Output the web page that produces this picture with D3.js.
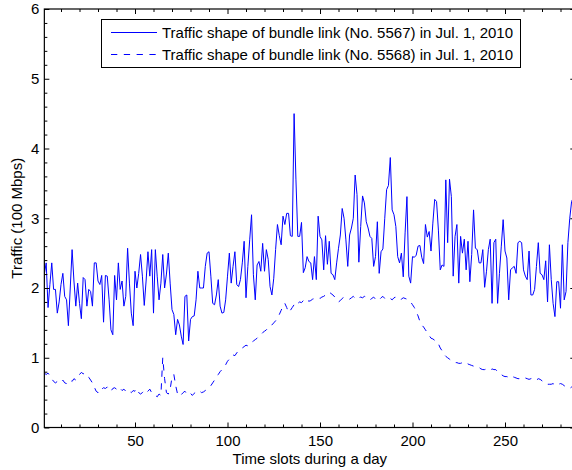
<!DOCTYPE html>
<html>
<head>
<meta charset="utf-8">
<script src="https://cdn.jsdelivr.net/npm/d3@7"></script>
<style>
  html, body { margin: 0; padding: 0; background: #fff; }
  svg { display: block; font-family: "Liberation Sans", Arial, Helvetica, sans-serif; }
</style>
</head>
<body>
<svg id="chart" width="572" height="470"></svg>
<script>
// Traffic over the 288 five-minute slots of Jul. 1, 2010 (unit: 100 Mbps)
const link5567 = [
  2.2, 2.36, 1.72, 2.05, 2.36, 1.98, 1.98, 1.64, 1.8, 2.05,
  2.21, 1.88, 1.83, 1.46, 2.0, 2.55, 2.1, 1.74, 2.07, 1.78,
  1.56, 2.15, 2.12, 1.74, 1.98, 1.95, 1.74, 2.36, 2.36, 2.1,
  2.05, 2.18, 1.51, 2.18, 2.17, 1.83, 1.4, 1.33, 2.18, 1.83,
  2.36, 1.98, 2.1, 1.74, 1.88, 2.57, 2.07, 1.64, 1.46, 2.24,
  2.0, 2.21, 2.48, 2.17, 1.75, 2.1, 2.52, 2.17, 2.55, 1.64,
  2.55, 2.17, 1.83, 2.07, 2.48, 2.0, 2.2, 2.5, 2.07, 1.69,
  1.62, 1.33, 1.55, 1.47, 1.31, 1.19, 1.88, 1.9, 1.24, 1.55,
  1.59, 1.6, 1.83, 2.24, 2.0, 2.0, 2.0, 2.31, 2.5, 2.52,
  2.17, 1.78, 1.76, 1.9, 2.12, 1.74, 1.64, 1.65, 1.83, 2.17,
  2.5, 2.07, 2.31, 2.52, 2.05, 2.02, 2.12, 2.36, 2.67, 1.86,
  2.31, 2.69, 3.05, 2.19, 1.83, 2.33, 2.38, 2.24, 2.64, 2.24,
  2.55, 2.41, 2.02, 1.9, 2.14, 2.55, 2.91, 2.75, 2.62, 3.03,
  2.91, 3.07, 3.07, 2.75, 2.74, 4.5, 3.55, 2.74, 2.74, 2.94,
  2.22, 2.29, 2.45, 2.38, 2.36, 2.12, 2.45, 2.12, 3.03, 2.74,
  2.69, 2.26, 2.75, 2.34, 2.67, 2.21, 2.19, 2.12, 2.36, 2.57,
  2.76, 3.14, 3.0, 2.69, 2.31, 2.76, 2.86, 3.0, 3.62, 3.34,
  2.37, 2.88, 3.32, 3.22, 2.95, 2.86, 2.74, 2.71, 2.31, 2.45,
  2.95, 2.21, 2.52, 2.56, 3.0, 3.41, 3.47, 3.87, 3.12, 3.05,
  2.88, 2.45, 2.36, 2.5, 2.16, 2.79, 3.31, 2.17, 2.07, 2.45,
  2.44, 2.47, 2.6, 2.61, 2.44, 2.35, 2.91, 2.73, 2.81, 2.53,
  2.93, 3.27, 3.24, 2.83, 2.26, 2.33, 2.31, 3.55, 2.65, 3.56,
  3.31, 2.17, 2.74, 2.91, 2.07, 2.74, 2.5, 2.7, 2.26, 2.67,
  2.09, 2.48, 3.12, 2.57, 2.55, 2.36, 2.36, 2.55, 2.01, 2.24,
  2.55, 2.7, 1.78, 2.65, 2.7, 1.78, 2.21, 2.6, 2.98, 2.53,
  2.43, 1.83, 2.26, 2.29, 2.31, 2.21, 2.65, 2.67, 2.65, 2.26,
  2.17, 2.12, 2.53, 1.9, 1.9, 1.98, 2.31, 2.65, 2.21, 2.19,
  2.12, 2.39, 1.8, 2.62, 2.12, 1.78, 1.59, 2.09, 2.09, 1.71,
  2.62, 1.83, 1.95, 2.65, 3.0, 3.24, 3.3, 3.1
];

const link5568 = [
  0.78, 0.76, 0.78, 0.74, 0.7, 0.66, 0.64, 0.66, 0.67, 0.65,
  0.68, 0.64, 0.63, 0.66, 0.68, 0.66, 0.7, 0.68, 0.72, 0.76,
  0.79, 0.77, 0.78, 0.74, 0.72, 0.68, 0.64, 0.58, 0.52, 0.5,
  0.56, 0.55, 0.57, 0.56, 0.58, 0.55, 0.52, 0.56, 0.57, 0.55,
  0.58, 0.56, 0.53, 0.55, 0.52, 0.54, 0.52, 0.5, 0.53, 0.52,
  0.56, 0.5, 0.48, 0.5, 0.53, 0.5, 0.52, 0.55, 0.5, 0.48,
  0.46, 0.44, 0.48, 0.46, 1.0, 0.7, 0.5, 0.48, 0.55, 0.72,
  0.76, 0.6, 0.48, 0.5, 0.47, 0.5, 0.52, 0.48, 0.5, 0.49,
  0.46, 0.49, 0.51, 0.5, 0.52, 0.5, 0.51, 0.53, 0.55, 0.57,
  0.6, 0.64, 0.68, 0.72, 0.76, 0.8, 0.83, 0.87, 0.9, 0.95,
  0.98, 1.02, 1.04, 1.03, 1.07, 1.1, 1.12, 1.14, 1.16, 1.18,
  1.17, 1.2, 1.22, 1.24, 1.26, 1.28, 1.31, 1.33, 1.36, 1.38,
  1.4, 1.43, 1.46, 1.47, 1.5, 1.53, 1.57, 1.62, 1.68, 1.74,
  1.78, 1.72, 1.65, 1.68, 1.72, 1.76, 1.8, 1.78, 1.8, 1.79,
  1.82, 1.8, 1.83, 1.81, 1.82, 1.84, 1.85, 1.85, 1.86, 1.85,
  1.87, 1.88, 1.9, 1.93, 1.94, 1.92, 1.9, 1.87, 1.84, 1.8,
  1.82, 1.85, 1.87, 1.86, 1.85, 1.84, 1.86, 1.88, 1.85, 1.84,
  1.86, 1.87, 1.86, 1.88, 1.87, 1.86, 1.83, 1.85, 1.87, 1.84,
  1.82, 1.83, 1.86, 1.88, 1.85, 1.84, 1.86, 1.85, 1.83, 1.86,
  1.87, 1.85, 1.83, 1.84, 1.86, 1.85, 1.84, 1.82, 1.8, 1.76,
  1.72, 1.66, 1.6, 1.52, 1.47, 1.44, 1.4, 1.36, 1.32, 1.28,
  1.27, 1.25, 1.24, 1.2, 1.14, 1.1, 1.05, 1.02, 1.0, 0.98,
  0.96, 0.94, 0.93, 0.93, 0.92, 0.92, 0.93, 0.92, 0.93, 0.91,
  0.9, 0.89, 0.88, 0.88, 0.87, 0.86, 0.84, 0.83, 0.83, 0.84,
  0.83, 0.82, 0.84, 0.83, 0.83, 0.8, 0.78, 0.76, 0.74, 0.73,
  0.73, 0.72, 0.74, 0.73, 0.72, 0.71, 0.7, 0.7, 0.69, 0.7,
  0.71, 0.7, 0.69, 0.7, 0.71, 0.7, 0.68, 0.7, 0.69, 0.67,
  0.65, 0.63, 0.62, 0.62, 0.62, 0.63, 0.61, 0.6, 0.62, 0.63,
  0.62, 0.6, 0.58, 0.57, 0.56, 0.58, 0.57, 0.56
];

const seriesNames = [
  "Traffic shape of bundle link (No. 5567) in Jul. 1, 2010",
  "Traffic shape of bundle link (No. 5568) in Jul. 1, 2010"
];
const xTickValues = [50, 100, 150, 200, 250];
const yTickValues = [0, 1, 2, 3, 4, 5, 6];
const xLabel = "Time slots during a day";
const yLabel = "Traffic (100 Mbps)";

const svg = d3.select("#chart");
const plot = { left: 44.35, right: 575.3, top: 9, bottom: 427.5 };
const lineColor = "#0000ff";
const fontSize = 15;

const x = d3.scaleLinear().domain([1, 288]).range([plot.left, plot.right]);
const y = d3.scaleLinear().domain([0, 6]).range([plot.bottom, plot.top]);

// minor tick positions (every 10 slots, every 0.2 units)
const xMinor = d3.range(10, 288, 10).filter(v => v % 50 !== 0);
const yMinor = d3.range(0, 31).map(i => i / 5).filter(v => Math.abs(v - Math.round(v)) > 1e-6);

svg.append("defs").append("clipPath").attr("id", "plot-clip")
  .append("rect")
  .attr("x", plot.left).attr("y", plot.top)
  .attr("width", plot.right - plot.left).attr("height", plot.bottom - plot.top);

// data lines
const line = d3.line().x((d, i) => x(i + 1)).y(d => y(d));
const g = svg.append("g").attr("clip-path", "url(#plot-clip)");
g.append("path").datum(link5568)
  .attr("d", line).attr("fill", "none")
  .attr("stroke", lineColor).attr("stroke-width", 1)
  .attr("stroke-dasharray", "6.3,6.5");
g.append("path").datum(link5567)
  .attr("d", line).attr("fill", "none")
  .attr("stroke", lineColor).attr("stroke-width", 1)
  .attr("stroke-linejoin", "round");

// axes: inward ticks on all four sides
function styleAxis(sel) {
  sel.select(".domain").remove();
  sel.selectAll(".tick line").attr("stroke", "#000").attr("stroke-width", 1);
  sel.selectAll(".tick text").attr("fill", "#000")
    .style("font-size", fontSize + "px")
    .style("font-family", "'Liberation Sans', Arial, Helvetica, sans-serif");
}

svg.append("g").attr("transform", `translate(0,${plot.bottom})`)
  .call(d3.axisBottom(x).tickValues(xTickValues).tickSize(-5).tickPadding(8).tickFormat(d3.format("d")))
  .call(styleAxis);
svg.append("g").attr("transform", `translate(0,${plot.bottom})`)
  .call(d3.axisBottom(x).tickValues(xMinor).tickSize(-3).tickFormat(""))
  .call(styleAxis);
svg.append("g").attr("transform", `translate(0,${plot.top})`)
  .call(d3.axisTop(x).tickValues(xTickValues).tickSize(-5).tickFormat(""))
  .call(styleAxis);
svg.append("g").attr("transform", `translate(0,${plot.top})`)
  .call(d3.axisTop(x).tickValues(xMinor).tickSize(-3).tickFormat(""))
  .call(styleAxis);

svg.append("g").attr("transform", `translate(${plot.left},0)`)
  .call(d3.axisLeft(y).tickValues(yTickValues).tickSize(-5).tickPadding(5).tickFormat(d3.format("d")))
  .call(styleAxis);
svg.append("g").attr("transform", `translate(${plot.left},0)`)
  .call(d3.axisLeft(y).tickValues(yMinor).tickSize(-3).tickFormat(""))
  .call(styleAxis);
svg.append("g").attr("transform", `translate(${plot.right},0)`)
  .call(d3.axisRight(y).tickValues(yTickValues).tickSize(-5).tickFormat(""))
  .call(styleAxis);
svg.append("g").attr("transform", `translate(${plot.right},0)`)
  .call(d3.axisRight(y).tickValues(yMinor).tickSize(-3).tickFormat(""))
  .call(styleAxis);

// frame
svg.append("rect")
  .attr("x", plot.left).attr("y", plot.top)
  .attr("width", plot.right - plot.left).attr("height", plot.bottom - plot.top)
  .attr("fill", "none").attr("stroke", "#000").attr("stroke-width", 1.2);

// axis titles
svg.append("text")
  .attr("x", (plot.left + plot.right) / 2).attr("y", 463.5)
  .attr("text-anchor", "middle").attr("fill", "#000")
  .style("font-size", fontSize + "px")
  .text(xLabel);
svg.append("text")
  .attr("transform", `translate(22,${(plot.top + plot.bottom) / 2}) rotate(-90)`)
  .attr("text-anchor", "middle").attr("fill", "#000")
  .style("font-size", fontSize + "px")
  .text(yLabel);

// legend
const legend = svg.append("g");
legend.append("rect")
  .attr("x", 101.5).attr("y", 19.5).attr("width", 419).attr("height", 48)
  .attr("fill", "#fff").attr("stroke", "#000").attr("stroke-width", 1);
const rows = [
  { name: seriesNames[0], dash: null, cy: 32.5 },
  { name: seriesNames[1], dash: "6.3,6.5", cy: 54.5 }
];
rows.forEach(r => {
  legend.append("line")
    .attr("x1", 111).attr("x2", 157).attr("y1", r.cy).attr("y2", r.cy)
    .attr("stroke", lineColor).attr("stroke-width", 1)
    .attr("stroke-dasharray", r.dash);
  legend.append("text")
    .attr("x", 162).attr("y", r.cy + 5.2)
    .attr("fill", "#000").style("font-size", fontSize + "px")
    .text(r.name);
});
</script>
</body>
</html>
